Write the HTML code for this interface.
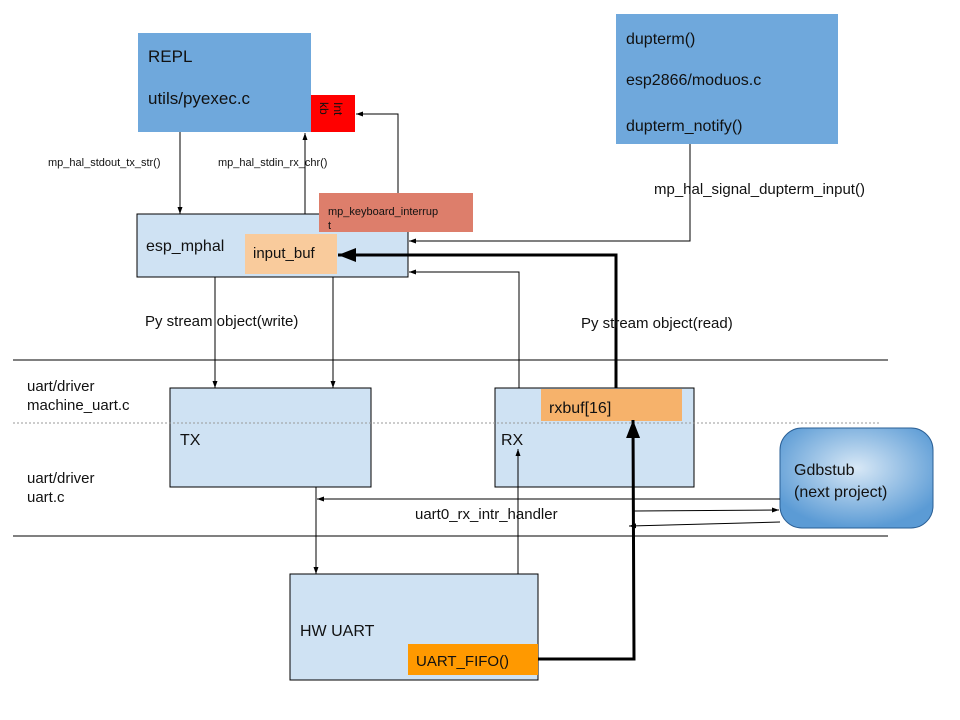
<!DOCTYPE html>
<html><head><style>body{margin:0;background:#fff}svg{display:block}text{font-family:"Liberation Sans",Arial,sans-serif;fill:#111}</style></head>
<body>
<svg width="960" height="720" viewBox="0 0 960 720" xmlns="http://www.w3.org/2000/svg">
<defs>
<marker id="a" markerWidth="8" markerHeight="8" refX="7" refY="4" orient="auto" markerUnits="userSpaceOnUse"><path d="M0,1.5 L7,4 L0,6.5z" fill="#000"/></marker>
<marker id="b" markerWidth="20" markerHeight="16" refX="18" refY="8" orient="auto" markerUnits="userSpaceOnUse"><path d="M0,1 L18,8 L0,15z" fill="#000"/></marker>
<radialGradient id="g" cx="50%" cy="40%" r="60%"><stop offset="0" stop-color="#d8e8f6"/><stop offset="1" stop-color="#5b9bd5"/></radialGradient>
</defs>
<line x1="13" y1="360" x2="888" y2="360" stroke="#000"/>
<line x1="13" y1="536" x2="888" y2="536" stroke="#000"/>

<rect x="138" y="33" width="173" height="99" fill="#6fa8dc"/>
<text x="148" y="62" font-size="17">REPL</text>
<text x="148" y="104" font-size="17">utils/pyexec.c</text>
<rect x="311" y="95" width="44" height="37" fill="#ff0000"/>
<text x="0" y="0" font-size="12" transform="translate(334,102) rotate(90)">Int</text>
<text x="0" y="0" font-size="12" transform="translate(320,102) rotate(90)">kb</text>

<rect x="616" y="14" width="222" height="130" fill="#6fa8dc"/>
<text x="626" y="44" font-size="16">dupterm()</text>
<text x="626" y="85" font-size="16">esp2866/moduos.c</text>
<text x="626" y="131" font-size="16">dupterm_notify()</text>
<text x="654" y="194" font-size="15">mp_hal_signal_dupterm_input()</text>

<rect x="137" y="214" width="271" height="63" fill="#cfe2f3" stroke="#000"/>
<text x="146" y="251" font-size="16">esp_mphal</text>
<rect x="245" y="234" width="92" height="40" fill="#f9cb9c"/>
<text x="253" y="258" font-size="15">input_buf</text>
<rect x="319" y="193" width="154" height="39" fill="#dd7e6b"/>
<text x="328" y="215" font-size="11">mp_keyboard_interrup</text>
<text x="328" y="229" font-size="11">t</text>

<text x="48" y="166" font-size="11">mp_hal_stdout_tx_str()</text>
<text x="218" y="166" font-size="11">mp_hal_stdin_rx_chr()</text>
<line x1="180" y1="132" x2="180" y2="214" stroke="#000" marker-end="url(#a)"/>
<line x1="305" y1="214" x2="305" y2="133" stroke="#000" marker-end="url(#a)"/>
<polyline points="398,193 398,114 356,114" fill="none" stroke="#000" marker-end="url(#a)"/>
<polyline points="690,144 690,241 409,241" fill="none" stroke="#000" marker-end="url(#a)"/>
<polyline points="519,388 519,272 409,272" fill="none" stroke="#000" marker-end="url(#a)"/>
<polyline points="616,389 616,255 338,255" fill="none" stroke="#000" stroke-width="3" marker-end="url(#b)"/>

<text x="145" y="326" font-size="15">Py stream object(write)</text>
<text x="581" y="328" font-size="15">Py stream object(read)</text>
<line x1="215" y1="277" x2="215" y2="388" stroke="#000" marker-end="url(#a)"/>
<line x1="333" y1="277" x2="333" y2="388" stroke="#000" marker-end="url(#a)"/>

<text x="27" y="391" font-size="15">uart/driver</text>
<text x="27" y="410" font-size="15">machine_uart.c</text>
<text x="27" y="483" font-size="15">uart/driver</text>
<text x="27" y="502" font-size="15">uart.c</text>

<rect x="170" y="388" width="201" height="99" fill="#cfe2f3" stroke="#000"/>
<text x="180" y="445" font-size="16">TX</text>
<rect x="495" y="388" width="199" height="99" fill="#cfe2f3" stroke="#000"/>
<text x="501" y="445" font-size="16">RX</text>
<rect x="541" y="389" width="141" height="32" fill="#f6b26b"/>
<text x="549" y="413" font-size="16">rxbuf[16]</text>
<line x1="13" y1="423" x2="880" y2="423" stroke="#999" stroke-dasharray="2,2"/>

<rect x="780" y="428" width="153" height="100" rx="22" fill="url(#g)" stroke="#2a5f95"/>
<text x="794" y="475" font-size="16">Gdbstub</text>
<text x="794" y="497" font-size="16">(next project)</text>

<line x1="780" y1="499" x2="317" y2="499" stroke="#000" marker-end="url(#a)"/>
<line x1="634" y1="511" x2="779" y2="510" stroke="#000" marker-end="url(#a)"/>
<line x1="780" y1="522" x2="629" y2="526" stroke="#000" marker-end="url(#a)"/>
<text x="415" y="519" font-size="15">uart0_rx_intr_handler</text>
<line x1="316" y1="487" x2="316" y2="574" stroke="#000" marker-end="url(#a)"/>
<line x1="518" y1="574" x2="518" y2="449" stroke="#000" marker-end="url(#a)"/>

<rect x="290" y="574" width="248" height="106" fill="#cfe2f3" stroke="#000"/>
<text x="300" y="636" font-size="16">HW UART</text>
<rect x="408" y="644" width="130" height="31" fill="#ff9900"/>
<text x="416" y="666" font-size="15">UART_FIFO()</text>
<polyline points="538,659 634,659 633,420" fill="none" stroke="#000" stroke-width="3" marker-end="url(#b)"/>
</svg>
</body></html>
